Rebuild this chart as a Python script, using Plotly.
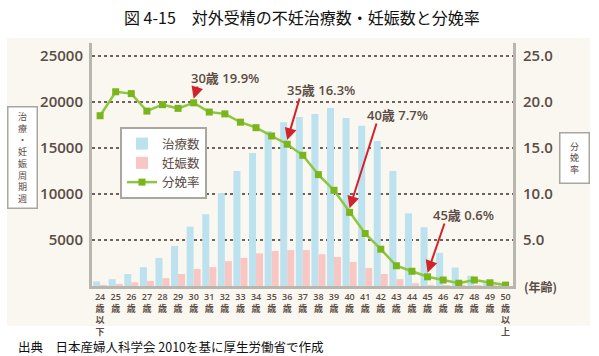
import plotly.graph_objects as go

ages = list(range(24, 51))
age_labels = ["24<br>歳<br>以<br>下"] + [f"{a}<br>歳" for a in range(25, 50)] + ["50<br>歳<br>以<br>上"]
treatments = [500, 750, 1300, 2050, 3050, 4350, 6450, 7800, 10100, 12500, 14450, 16850, 17800,
              18350, 18700, 19350, 18250, 17400, 15750, 12500, 7900, 6400, 3600, 2000, 1100, 500, 200]
pregnancies = [100, 200, 400, 550, 850, 1300, 1850, 2050, 2700, 3050, 3550, 3800, 3900,
               3900, 3450, 3150, 2600, 1950, 1300, 750, 300, 100, 50, 20, 10, 5, 0]
birth_rate = [18.5, 21.1, 20.9, 19.0, 19.7, 19.3, 19.9, 18.9, 18.7, 17.8, 17.2, 16.3, 15.4,
              14.2, 12.1, 10.4, 8.0, 5.7, 4.0, 2.2, 1.6, 1.0, 0.65, 0.3, 0.65, 0.35, 0.1]
left_ticks = [5000, 10000, 15000, 20000, 25000]
right_ticks = [5.0, 10.0, 15.0, 20.0, 25.0]
callouts = [("30歳 19.9%", 6), ("35歳 16.3%", 12), ("40歳 7.7%", 16), ("45歳 0.6%", 21)]

xs = list(range(len(ages)))
TXT = "#5b4c45"
W, H = 599, 356
L, R, T, B = 92, 86, 43, 70
PW, PH = W - L - R, H - T - B
XMIN, XMAX = -0.52, 26.48
YMAX2 = 26.4

def px(x):
    return (x - L) / PW

def py(y):
    return (H - B - y) / PH

fig = go.Figure()
fig.add_bar(x=xs, y=treatments, name="治療数", marker_color="#bce2ef", marker_line_width=0, legendgroup="a")
fig.add_bar(x=xs, y=pregnancies, name="妊娠数", marker_color="#f8c6c3", marker_line_width=0, legendgroup="b")
fig.add_scatter(x=xs, y=birth_rate, name="分娩率", yaxis="y2", mode="lines+markers", legendgroup="c",
                line=dict(color="#8dc63f", width=2.5),
                marker=dict(symbol="square", size=7, color="#7ab51d"))

font_cjk = "Noto Sans CJK JP"
tickfont = dict(family="Open Sans, Noto Sans CJK JP", size=15, color=TXT, weight=600)

fig.update_layout(
    width=W, height=H, margin=dict(l=L, r=R, t=T, b=B),
    paper_bgcolor="white", plot_bgcolor="rgba(0,0,0,0)",
    barmode="group", bargap=0.1, bargroupgap=0,
    showlegend=True,
    legend=dict(x=px(120), y=py(127), xanchor="left", yanchor="top",
                bgcolor="white", bordercolor="#aaa6a0", borderwidth=2,
                font=dict(family=font_cjk, size=12.5, color=TXT),
                itemwidth=30, tracegroupgap=10, traceorder="normal"),
    xaxis=dict(range=[XMIN, XMAX], tickmode="array", tickvals=xs, ticktext=age_labels,
               tickfont=dict(family="Open Sans, Noto Sans CJK JP", size=9, color=TXT, weight=600),
               showgrid=False, showline=True, linecolor="#b9b5af", linewidth=3, ticks="",
               zeroline=False, automargin=False),
    yaxis=dict(range=[0, 26400], tickmode="array", tickvals=left_ticks,
               ticktext=[str(v) for v in left_ticks], tickfont=tickfont,
               showgrid=True, gridcolor="#6e635c", griddash="dot", gridwidth=1.5,
               showline=True, linecolor="#b9b5af", linewidth=3, ticks="", zeroline=False,
               ticklabelstandoff=3, automargin=False),
    yaxis2=dict(range=[0, YMAX2], overlaying="y", side="right", tickmode="array",
                tickvals=right_ticks, ticktext=[f"{v:.1f}" for v in right_ticks],
                tickfont=tickfont, showgrid=False, showline=True, linecolor="#b9b5af",
                linewidth=3, ticks="", zeroline=False, ticklabelstandoff=4, automargin=False),
)

# cream panel
fig.add_shape(type="rect", xref="paper", yref="paper", x0=px(7), x1=px(590), y0=py(326), y1=py(38),
              fillcolor="#f9f7ef", line_width=0, layer="below")

# title
fig.add_annotation(xref="paper", yref="paper", x=px(302), y=py(17), text="図 4-15　対外受精の不妊治療数・妊娠数と分娩率",
                   showarrow=False, font=dict(family=font_cjk, size=16, color="#111"), xanchor="center", yanchor="middle")
# footer
fig.add_annotation(xref="paper", yref="paper", x=px(16), y=py(346), text="出典　日本産婦人科学会 2010を基に厚生労働省で作成",
                   showarrow=False, font=dict(family=font_cjk, size=12.5, color="#111"), xanchor="left", yanchor="middle")
# axis title boxes
fig.add_annotation(xref="paper", yref="paper", x=px(22), y=py(157),
                   text="<br>".join(list("治療・妊娠周期週")), showarrow=False,
                   font=dict(family=font_cjk, size=9, color=TXT), bgcolor="white",
                   bordercolor="#aaa6a0", borderwidth=1.5, borderpad=2, width=24, height=96,
                   xanchor="center", yanchor="middle")
fig.add_annotation(xref="paper", yref="paper", x=px(574), y=py(158),
                   text="<br>".join(list("分娩率")), showarrow=False,
                   font=dict(family=font_cjk, size=9, color=TXT), bgcolor="white",
                   bordercolor="#aaa6a0", borderwidth=1.5, borderpad=2, width=24, height=45,
                   xanchor="center", yanchor="middle")
# (年齢)
fig.add_annotation(xref="paper", yref="paper", x=px(540), y=py(286), text="(年齢)", showarrow=False,
                   font=dict(family=font_cjk, size=12, color=TXT, weight=700), xanchor="center", yanchor="middle")

# callouts: arrow heads sit just above the data point, tails at the labels
tails = [(198, 85), (300, 97), (377, 122), (445, 222)]
texts_pos = [(225, 78), (321, 90), (397, 115), (463, 215)]
for (label, idx), (tx, ty), (lx, ly) in zip(callouts, tails, texts_pos):
    head_y = birth_rate[idx] + 0.45
    hx = L + (idx - XMIN) / (XMAX - XMIN) * PW
    hy = T + (YMAX2 - head_y) / YMAX2 * PH
    fig.add_annotation(x=idx, y=head_y, xref="x", yref="y2", text="",
                       showarrow=True, arrowhead=2, arrowsize=1.2, arrowwidth=2, arrowcolor="#d2232a",
                       ax=tx - hx, ay=ty - hy)
    fig.add_annotation(xref="paper", yref="paper", x=px(lx), y=py(ly), text=label, showarrow=False,
                       font=dict(family="Open Sans, Noto Sans CJK JP", size=13, color=TXT, weight=600),
                       xanchor="center", yanchor="middle")

fig.write_html("out.html", config={"displayModeBar": False},
               post_script="document.body.style.margin='0';document.body.style.overflow='hidden';")
